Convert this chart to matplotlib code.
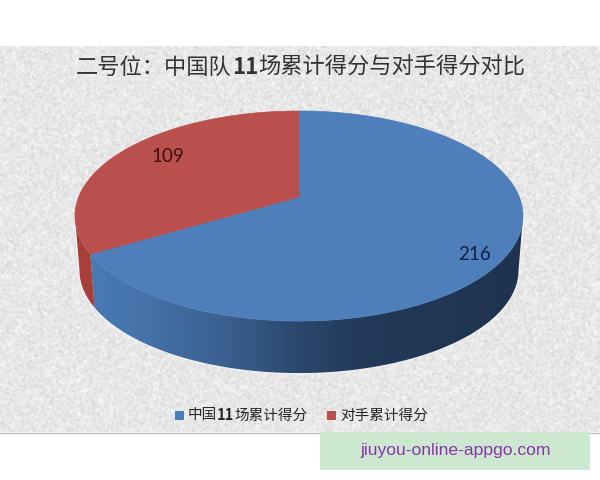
import numpy as np
import matplotlib
matplotlib.use('Agg')
import matplotlib.pyplot as plt
from matplotlib.patches import Polygon, Rectangle

plt.rcParams['font.family'] = ['Noto Sans CJK SC', 'DejaVu Sans']

# data
categories = ['中国11场累计得分', '对手累计得分']
values = [216, 109]
colors_top = ['#4e7fba', '#b9504d']
title_runs = [('二号位：中国队', 'normal'), ('11', 'bold'), ('场累计得分与对手得分对比', 'normal')]
legend_runs = [[('中国', 'normal'), ('11', 'bold'), ('场累计得分', 'normal')],
               [('对手累计得分', 'normal')]]
watermark = 'jiuyou-online-appgo.com'

fig = plt.figure(figsize=(6, 4.8), dpi=100)
ax = fig.add_axes([0, 0, 1, 1])
ax.set_xlim(0, 600)
ax.set_ylim(480, 0)
ax.axis('off')

# 背景纹理
rng = np.random.default_rng(3)
noise = rng.normal(0, 1, (386, 600))
kernel = np.array([1, 2, 1]) / 4
noise = np.apply_along_axis(lambda r: np.convolve(r, kernel, mode='same'), 1, noise)
noise = np.apply_along_axis(lambda r: np.convolve(r, kernel, mode='same'), 0, noise)
ax.imshow(231 + 14 * noise, cmap='gray', vmin=0, vmax=255, extent=(0, 600, 432, 46),
          aspect='auto', interpolation='bilinear', zorder=0)
ax.set_xlim(0, 600)
ax.set_ylim(480, 0)
ax.plot([0, 600], [432.5, 432.5], color='#bdbdbd', lw=1, zorder=1)

# 透视饼图
cx, apex_y = 299, 197
k, sy, sx = 0.181, 101.6, 220.3
depth_scale, apex_y_low = 0.98, 251.5


def project(theta, low=False):
    u, v = np.cos(theta), np.sin(theta)
    d = 1 + k * v
    x, y = sx * u / d, -sy * v / d
    if low:
        return cx + depth_scale * x, apex_y_low + depth_scale * y
    return cx + x, apex_y + y


angles = 360 * np.cumsum([0] + values) / sum(values)
theta_edges = np.radians(90 - angles)
edge = np.arcsin(k)
t_right = -edge
t_boundary = theta_edges[1]
t_left = -np.pi + edge


def side_poly(t0, t1):
    t = np.linspace(t0, t1, 160)
    xa, ya = project(t)
    xb, yb = project(t[::-1], low=True)
    return np.column_stack([np.r_[xa, xb], np.r_[ya, yb]])


# 侧面
halo = side_poly(t_left, t_right)
ax.add_patch(Polygon(halo, closed=True, fc='none', ec='white', lw=2, alpha=0.4, zorder=2))
blue_side = Polygon(side_poly(t_boundary, t_right), closed=True, fc='none', ec='none', zorder=3)
ax.add_patch(blue_side)
grad = np.interp(np.linspace(90, 523, 300), [90, 140, 230, 300, 360, 523], [0, 0.1, 0.38, 0.72, 0.9, 1.0])
c0, c1 = np.array([0x4a, 0x7a, 0xb4]) / 255, np.array([0x1f, 0x33, 0x50]) / 255
grad_img = (c0[None, :] * (1 - grad[:, None]) + c1[None, :] * grad[:, None])[None, :, :]
im = ax.imshow(grad_img, extent=(90, 523, 380, 200), aspect='auto', zorder=3)
im.set_clip_path(blue_side)
ax.set_xlim(0, 600)
ax.set_ylim(480, 0)
ax.add_patch(Polygon(side_poly(t_left, t_boundary), closed=True, fc='#a83f3b', ec='none', zorder=3))

# 顶面
for i in range(len(values)):
    t = np.linspace(theta_edges[i], theta_edges[i + 1], 200)
    xs, ys = project(t)
    pts = np.column_stack([np.r_[cx, xs], np.r_[apex_y, ys]])
    ax.add_patch(Polygon(pts, closed=True, fc=colors_top[i], ec=colors_top[i], lw=0.5, zorder=4))

ax.text(474, 254.5, str(values[0]), family='Lato', fontsize=13.5, color='#10204a',
        ha='center', va='center', zorder=5)
ax.text(168, 156.5, str(values[1]), family='Lato', fontsize=13.5, color='#3f0d0d',
        ha='center', va='center', zorder=5)


def draw_runs(x, y, runs, size, color):
    # 一段一段写，11 用粗体
    r = fig.canvas.get_renderer()
    for s, w in runs:
        t = ax.text(x, y, s, fontsize=size, fontweight=w, color=color, ha='left',
                    va='center_baseline', zorder=6)
        x = ax.transData.inverted().transform(t.get_window_extent(r))[1, 0]
    return x


draw_runs(76, 65, title_runs, 16, '#333333')

# 图例
legend_x = [175, 327]
text_x = [188, 340]
for i in range(len(categories)):
    ax.add_patch(Rectangle((legend_x[i], 411), 9, 9, fc=colors_top[i], ec='none', zorder=6))
    draw_runs(text_x[i], 414, legend_runs[i], 10.5, '#262626')

# 水印
ax.add_patch(Rectangle((320, 432), 270, 38, fc='#cde8d0', ec='none', zorder=7))
ax.text(455.5, 450, watermark, family='Liberation Sans', fontsize=12.6, color='#8a35a8',
        ha='center', va='center', zorder=8)

fig.savefig('out.png', dpi=100)
